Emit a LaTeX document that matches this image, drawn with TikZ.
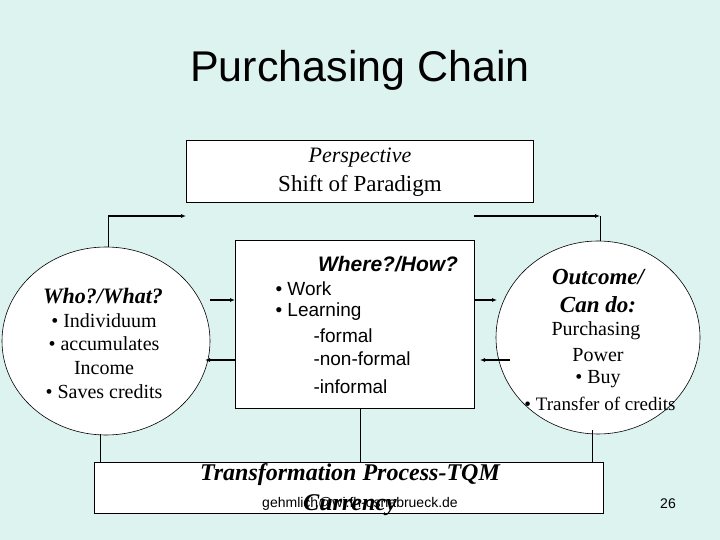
\documentclass[tikz,border=0pt]{standalone}
\usetikzlibrary{shapes.geometric,arrows.meta}
\usepackage{fontspec}
\setmainfont{Liberation Serif}
\setsansfont{Liberation Sans}
\begin{document}
\begin{tikzpicture}[x=1pt,y=-1pt,
  shp/.style={draw=black,fill=white,line width=0.6pt},
  con/.style={line width=0.8pt},
  arr/.style={line width=1.4pt,-{Latex[length=5pt,width=4pt]}},
  ser/.style={font=\fontsize{20}{22}\selectfont},
  sb/.style={font=\fontsize{22}{24}\selectfont\bfseries\itshape},
  ssf/.style={font=\fontsize{19}{22}\selectfont\sffamily}]
\useasboundingbox (0,0) rectangle (720,540);
\fill[fill={rgb,255:red,221;green,243;blue,240}] (0,0) rectangle (720,540);
\node[font=\fontsize{43}{46}\selectfont\sffamily] (title) at (360,70) {Purchasing Chain};
% shapes
\node[shp,minimum width=347pt,minimum height=62pt] (top) at (359.5,171) {};
\node[shp,ellipse,minimum width=208pt,minimum height=188pt,inner sep=0pt] (L) at (106,341) {};
\node[shp,ellipse,minimum width=204pt,minimum height=193pt,inner sep=0pt] (R) at (598,337.5) {};
\node[shp,minimum width=239pt,minimum height=168pt] (M) at (354.5,324) {};
\node[shp,minimum width=509pt,minimum height=51pt] (B) at (348.5,487.5) {};
% connectors
\coordinate (lt) at (108,216); \coordinate (rt) at (600,216);
\draw[con] (108,247) -- (lt);
\draw[arr] (lt) -- (186,216);
\draw[arr] (474,216) -- (rt);
\draw[con] (rt) -- (600,241);
\draw[arr] (210,300) -- (235,300);
\draw[arr] (235,360) -- (205,360);
\draw[arr] (475,300) -- (497,300);
\draw[arr] (510,360) -- (480,360);
\draw[con] (100,434) -- (100,462);
\draw[con] (360,408) -- (360,462);
\draw[con] (592,430) -- (592,462);
% texts
\node[font=\fontsize{22}{24}\selectfont\itshape] (t1) at (360,158) {Perspective};
\node[font=\fontsize{23}{24}\selectfont] (t2) at (360,186) {Shift of Paradigm};
\node[sb] (l0) at (103,296) {Who?/What?};
\node[ser] (l1) at (104,321) {• Individuum};
\node[ser] (l2) at (104,344) {• accumulates};
\node[ser] (l3) at (104,368) {Income};
\node[ser] (l4) at (104,392) {• Saves credits};
\node[font=\fontsize{21}{22}\selectfont\sffamily\bfseries\itshape] (m0) at (388,264) {Where?/How?};
\node[ssf,anchor=west] (m1) at (272,289) {• Work};
\node[ssf,anchor=west] (m2) at (272,312) {• Learning};
\node[ssf,anchor=west] (m3) at (310,336) {-formal};
\node[ssf,anchor=west] (m4) at (310,359) {-non-formal};
\node[ssf,anchor=west] (m5) at (310,387) {-informal};
\node[sb,font=\fontsize{23}{24}\selectfont\bfseries\itshape] (r0) at (598,277) {Outcome/};
\node[sb,font=\fontsize{23}{24}\selectfont\bfseries\itshape] (r1) at (598,305) {Can do:};
\node[ser] (r2) at (596,331) {Purchasing};
\node[ser] (r3) at (598,355) {Power};
\node[ser] (r4) at (598,379) {• Buy};
\node[ser,font=\fontsize{19}{22}\selectfont] (r5) at (600,404) {• Transfer of credits};
\node[sb,font=\fontsize{24}{26}\selectfont\bfseries\itshape] (b0) at (350,475) {Transformation Process-TQM};
\node[sb,font=\fontsize{24}{26}\selectfont\bfseries\itshape] (b1) at (350,505) {Currency};
\node[font=\fontsize{14}{16}\selectfont\sffamily] (foot) at (360,504) {gehmlich@wi.fh-osnabrueck.de};
\node[font=\fontsize{14}{16}\selectfont\sffamily] (pg) at (668,504) {26};
\end{tikzpicture}
\end{document}
